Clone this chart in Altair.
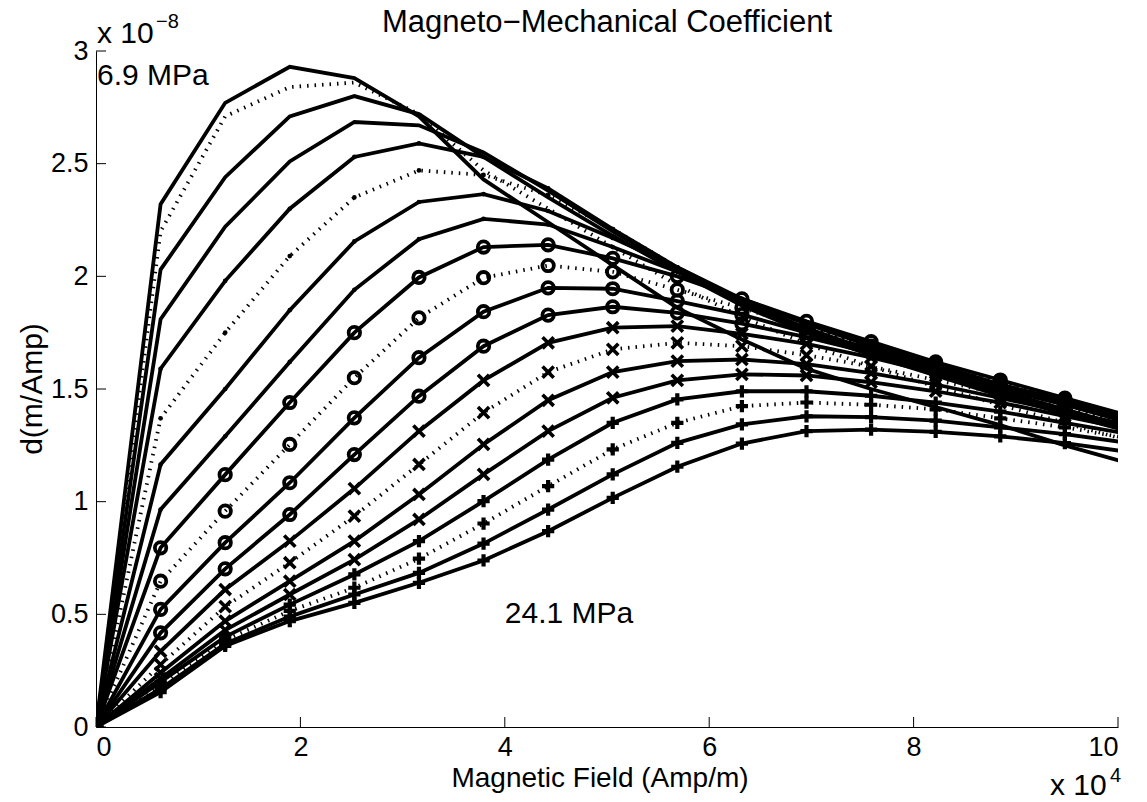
import altair as alt
import pandas as pd

# Applied magnetic field, in units of 1e4 A/m
field = [0, 0.632, 1.264, 1.896, 2.528, 3.160, 3.792, 4.424, 5.056, 5.688,
         6.320, 6.952, 7.584, 8.216, 8.848, 9.480, 10.112]

# d coefficient, in units of 1e-8 m/A, one list per prestress (6.9 MPa first, 24.1 MPa last)
s01 = [0, 2.32, 2.77, 2.93, 2.88, 2.71, 2.43, 2.24, 2.05, 1.86, 1.72, 1.59, 1.50, 1.42, 1.34, 1.25, 1.17]
s02 = [0, 2.20, 2.71, 2.84, 2.86, 2.72, 2.47, 2.30, 2.13, 1.96, 1.82, 1.70, 1.60, 1.51, 1.43, 1.35, 1.27]
s03 = [0, 2.03, 2.44, 2.71, 2.80, 2.72, 2.53, 2.35, 2.18, 2.02, 1.87, 1.75, 1.65, 1.56, 1.47, 1.39, 1.31]
s04 = [0, 1.81, 2.22, 2.51, 2.685, 2.67, 2.55, 2.38, 2.20, 2.03, 1.88, 1.76, 1.66, 1.57, 1.48, 1.40, 1.32]
s05 = [0, 1.59, 1.98, 2.30, 2.53, 2.59, 2.53, 2.39, 2.21, 2.04, 1.89, 1.77, 1.67, 1.58, 1.49, 1.41, 1.33]
s06 = [0, 1.37, 1.75, 2.09, 2.35, 2.47, 2.45, 2.36, 2.21, 2.04, 1.89, 1.78, 1.68, 1.59, 1.50, 1.42, 1.34]
s07 = [0, 1.165, 1.50, 1.85, 2.155, 2.33, 2.365, 2.29, 2.17, 2.04, 1.90, 1.79, 1.69, 1.60, 1.51, 1.43, 1.35]
s08 = [0, 0.965, 1.29, 1.62, 1.94, 2.165, 2.255, 2.23, 2.13, 2.02, 1.90, 1.79, 1.70, 1.61, 1.52, 1.44, 1.36]
s09 = [0, 0.795, 1.12, 1.44, 1.75, 1.995, 2.13, 2.14, 2.08, 2.00, 1.90, 1.80, 1.71, 1.62, 1.54, 1.46, 1.38]
s10 = [0, 0.647, 0.958, 1.254, 1.55, 1.816, 1.994, 2.048, 2.02, 1.94, 1.86, 1.77, 1.69, 1.61, 1.53, 1.455, 1.375]
s11 = [0, 0.522, 0.818, 1.084, 1.372, 1.639, 1.843, 1.949, 1.945, 1.89, 1.83, 1.75, 1.68, 1.60, 1.52, 1.45, 1.37]
s12 = [0, 0.418, 0.702, 0.943, 1.209, 1.468, 1.690, 1.828, 1.865, 1.838, 1.79, 1.73, 1.66, 1.59, 1.51, 1.44, 1.365]
s13 = [0, 0.336, 0.610, 0.825, 1.058, 1.313, 1.538, 1.705, 1.772, 1.779, 1.745, 1.70, 1.64, 1.57, 1.50, 1.43, 1.36]
s14 = [0, 0.277, 0.534, 0.729, 0.936, 1.165, 1.395, 1.575, 1.676, 1.705, 1.69, 1.65, 1.60, 1.54, 1.48, 1.41, 1.35]
s15 = [0, 0.241, 0.47, 0.647, 0.825, 1.032, 1.254, 1.45, 1.575, 1.624, 1.631, 1.61, 1.57, 1.52, 1.46, 1.40, 1.34]
s16 = [0, 0.215, 0.43, 0.588, 0.743, 0.921, 1.121, 1.313, 1.461, 1.538, 1.565, 1.56, 1.53, 1.49, 1.44, 1.38, 1.32]
s17 = [0, 0.20, 0.40, 0.543, 0.677, 0.825, 1.002, 1.187, 1.350, 1.454, 1.490, 1.49, 1.47, 1.44, 1.40, 1.35, 1.30]
s18 = [0, 0.185, 0.385, 0.515, 0.618, 0.747, 0.903, 1.069, 1.232, 1.350, 1.424, 1.44, 1.43, 1.41, 1.37, 1.33, 1.28]
s19 = [0, 0.17, 0.37, 0.49, 0.588, 0.684, 0.814, 0.965, 1.121, 1.261, 1.343, 1.379, 1.375, 1.36, 1.33, 1.30, 1.26]
s20 = [0, 0.155, 0.36, 0.47, 0.551, 0.640, 0.739, 0.869, 1.017, 1.155, 1.258, 1.313, 1.32, 1.31, 1.29, 1.26, 1.22]

curves = [s01, s02, s03, s04, s05, s06, s07, s08, s09, s10,
          s11, s12, s13, s14, s15, s16, s17, s18, s19, s20]
line_style = ["solid", "dotted", "solid", "solid"] * 5
marker = ["none"] * 4 + ["dot"] * 4 + ["circle"] * 4 + ["cross"] * 4 + ["plus"] * 4

x_ticks = [0, 2, 4, 6, 8, 10]
y_ticks = [0, 0.5, 1, 1.5, 2, 2.5, 3]

rows = []
for i, (vals, ls, mk) in enumerate(zip(curves, line_style, marker)):
    for h, d in zip(field, vals):
        rows.append({"curve": i, "H": h, "d": d, "style": ls, "marker": mk})
df = pd.DataFrame(rows)

W, HT = 1022, 676
FONT = "Liberation Sans"
INK = "black"
LW = 3.8

x_enc = alt.X("H:Q", scale=alt.Scale(domain=[0, 10], nice=False, zero=False),
              axis=alt.Axis(values=x_ticks, format="d", title=None, labelPadding=7))
y_enc = alt.Y("d:Q", scale=alt.Scale(domain=[0, 3], nice=False, zero=False),
              axis=alt.Axis(values=y_ticks, format=".1~f", title=None, labelPadding=8))

base = alt.Chart(df).encode(x=x_enc, y=y_enc)

solid = base.transform_filter(alt.datum.style == "solid").mark_line(
    color=INK, strokeWidth=LW, clip=True).encode(detail="curve:N")
dotted = base.transform_filter(alt.datum.style == "dotted").mark_line(
    color=INK, strokeWidth=LW, strokeDash=[1.5, 6], strokeCap="butt", clip=True
).encode(detail="curve:N")

circles = base.transform_filter(alt.datum.marker == "circle").mark_point(
    shape="circle", filled=False, size=130, strokeWidth=3.8, color=INK, opacity=1, clip=True)
crosses = base.transform_filter(alt.datum.marker == "cross").mark_point(
    shape="M-1,-1L1,1M-1,1L1,-1", filled=False, size=125, strokeWidth=3.6,
    color=INK, opacity=1, clip=True)
pluses = base.transform_filter(alt.datum.marker == "plus").mark_point(
    shape="M-1,0L1,0M0,-1L0,1", filled=False, size=150, strokeWidth=4.2,
    color=INK, opacity=1, clip=True)
dots = base.transform_filter(alt.datum.marker == "dot").mark_point(
    shape="circle", filled=True, size=22, color=INK, opacity=1, clip=True)

# inward-pointing tick marks on the two drawn axes
xtick_marks = alt.Chart(pd.DataFrame({"H": x_ticks})).mark_rule(
    color=INK, strokeWidth=1).encode(x=x_enc, y=alt.value(HT), y2=alt.value(HT - 10))
ytick_marks = alt.Chart(pd.DataFrame({"d": y_ticks})).mark_rule(
    color=INK, strokeWidth=1).encode(y=y_enc, x=alt.value(0), x2=alt.value(10))

# stress labels placed in data coordinates
notes = alt.Chart(pd.DataFrame({"H": [0.01, 4.0], "d": [2.89, 0.5],
                                "t": ["6.9 MPa", "24.1 MPa"]})).mark_text(
    align="left", baseline="middle", font=FONT, fontSize=30, color=INK
).encode(x=x_enc, y=y_enc, text="t:N")


def label(text, x, y, size, **kw):
    return alt.Chart(pd.DataFrame({"t": [text]})).mark_text(
        font=FONT, fontSize=size, color=INK, **kw
    ).encode(text="t:N", x=alt.value(x), y=alt.value(y))


title = label("Magneto\u2212Mechanical Coefficient", W / 2, -28, 31, align="center", baseline="middle")
xtitle = label("Magnetic Field (Amp/m)", 504, 728, 28, align="center", baseline="middle")
ytitle = label("d(m/Amp)", -63, HT / 2, 30, align="center", baseline="middle", angle=270)
yexp_base = label("x 10", 1, -17, 30, align="left", baseline="middle")
yexp_pow = label("\u22128", 60, -29, 20, align="left", baseline="middle")
xexp_base = label("x 10", 954, 735, 30, align="left", baseline="middle")
xexp_pow = label("4", 1014, 725, 20, align="left", baseline="middle")

chart = alt.layer(
    solid, dotted, circles, crosses, pluses, dots,
    xtick_marks, ytick_marks, notes,
    title, xtitle, ytitle, yexp_base, yexp_pow, xexp_base, xexp_pow,
).properties(
    width=W, height=HT,
    padding={"left": 96, "top": 51, "right": 29, "bottom": 75},
    autosize=alt.AutoSizeParams(type="none"),
    background="white",
).configure_view(stroke=None).configure_axis(
    grid=False, ticks=False, tickSize=0, domainColor=INK, domainWidth=1,
    labelFont=FONT, labelFontSize=27, labelColor=INK,
)

chart.save("out.html", embed_options={"renderer": "svg", "actions": False})
